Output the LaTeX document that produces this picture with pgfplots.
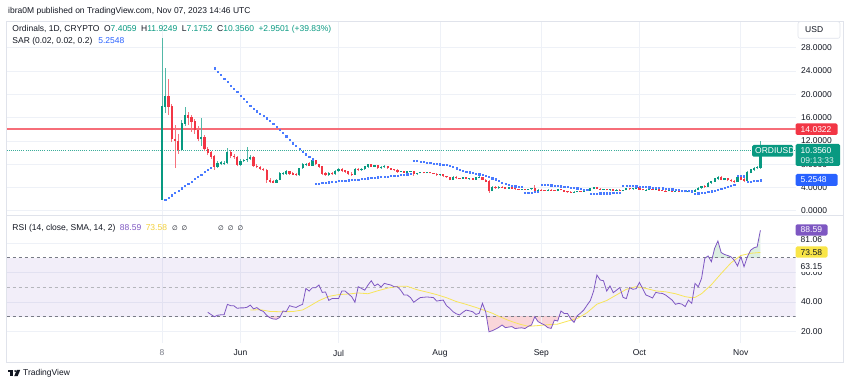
\documentclass[border=0pt]{standalone}
\usepackage{pgfplots}
\pgfplotsset{compat=1.18}
\usepackage{pgfplotstable}
\usepackage{fontspec}
\setmainfont{Liberation Sans}
\newfontfamily\symfont{DejaVu Sans}

\definecolor{tvgreen}{HTML}{089981}
\definecolor{tvred}{HTML}{F23645}
\definecolor{tvblue}{HTML}{2962FF}
\definecolor{sarblue}{HTML}{4A7BFF}
\definecolor{rsipurple}{HTML}{7E57C2}
\definecolor{smayellow}{HTML}{F7E55A}
\definecolor{labelyellow}{HTML}{F9E547}
\definecolor{legyellow}{HTML}{F2CF3A}
\definecolor{gridc}{HTML}{EEF1F7}
\definecolor{framec}{HTML}{E0E3EB}
\definecolor{txt}{HTML}{131722}
\definecolor{levelc}{HTML}{787B86}
\definecolor{obfill}{HTML}{DCEFE1}
\definecolor{osfill}{HTML}{FAD6DA}

\newcommand{\fs}{\fontsize{8.5bp}{10bp}\selectfont}

\pgfplotsset{
  tvbase/.style={
    scale only axis, anchor=south west,
    width=788.8bp,
    xmin=-47.49, xmax=193.73,
    axis line style={draw=none},
    major tick length=0pt,
    tick style={draw=none},
  },
}

% rising (green) daily candles: day, open, high, low, close
\pgfplotstableread{
d o h l c
0 1.96 29.7 1.85 17.9
1 17.9 24.5 16.8 19.6
6 10.5 15.6 10.2 15.0
7 15.0 17.9 14.6 16.4
12 12.3 16.0 11.2 12.6
17 7.6 8.6 7.3 8.1
18 8.0 8.5 7.8 8.3
19 8.0 8.5 7.9 8.2
20 8.2 10.8 8.0 10.1
24 7.9 8.8 7.7 8.5
25 8.5 8.9 8.3 8.7
26 8.7 11.0 8.4 8.9
27 8.9 9.6 8.7 9.2
35 4.85 5.5 4.8 5.3
36 5.3 6.6 5.2 6.4
37 6.3 6.6 6.1 6.45
38 6.4 7.0 6.2 6.8
42 6.1 7.4 6.0 7.3
43 7.3 8.2 7.2 8.0
44 7.85 8.2 7.6 8.05
46 7.8 8.8 7.7 8.6
51 6.1 6.7 6.0 6.5
53 6.3 7.0 6.2 6.8
54 6.8 7.3 6.6 7.1
59 6.15 7.4 6.1 7.2
61 7.0 7.3 6.9 7.15
62 7.15 7.7 7.0 7.6
63 7.6 8.1 7.4 7.95
65 7.6 7.9 7.5 7.75
67 7.3 7.6 7.2 7.5
68 7.5 7.8 7.3 7.65
73 6.7 6.9 6.6 6.8
75 6.6 6.8 6.5 6.7
76 6.7 6.9 6.6 6.8
78 6.3 6.5 6.2 6.45
79 6.45 6.6 6.4 6.55
81 6.45 6.7 6.4 6.6
85 6.1 6.3 6.0 6.2
89 5.35 5.9 5.3 5.75
92 5.5 5.8 5.45 5.7
94 5.45 5.6 5.35 5.55
96 5.4 5.8 5.35 5.7
97 5.7 5.9 5.6 5.8
101 3.35 4.2 3.3 4.0
103 3.9 4.2 3.8 4.1
106 3.85 4.1 3.8 4.0
110 3.6 3.8 3.55 3.7
112 3.6 3.8 3.55 3.75
113 3.75 3.9 3.6 3.85
115 3.45 3.7 3.4 3.6
118 3.4 3.7 3.35 3.6
121 3.4 3.7 3.35 3.65
126 3.1 3.35 3.0 3.25
127 3.25 3.4 3.15 3.35
129 3.28 3.55 3.25 3.5
131 3.42 3.9 3.4 3.8
132 3.8 4.1 3.7 4.0
135 3.6 3.8 3.5 3.75
137 3.55 3.7 3.45 3.65
139 3.45 3.65 3.4 3.6
141 3.4 3.6 3.35 3.55
142 3.55 3.9 3.5 3.85
144 3.7 3.85 3.6 3.8
145 3.8 4.05 3.7 3.95
148 3.55 3.7 3.45 3.6
149 3.6 3.75 3.55 3.7
151 3.6 3.7 3.5 3.65
155 3.35 3.5 3.3 3.45
157 3.3 3.45 3.25 3.4
159 3.25 3.35 3.15 3.32
161 3.2 3.36 3.15 3.32
163 3.25 3.65 3.2 3.6
164 3.6 4.0 3.5 3.9
165 3.9 4.3 3.8 4.2
167 4.05 4.9 4.0 4.8
168 4.8 5.1 4.6 5.0
169 5.0 5.7 4.9 5.5
170 5.5 6.0 5.3 5.8
172 5.35 5.6 5.2 5.5
176 4.95 5.9 4.9 5.8
179 5.2 6.8 5.1 6.6
180 6.6 7.2 6.4 7.05
181 7.05 7.5 6.9 7.35
182 7.3 7.7 7.1 7.45
183 7.4059 11.9249 7.1752 10.356
}\gcand

% falling (red) daily candles: day, open, high, low, close
\pgfplotstableread{
d o h l c
2 19.6 22.6 16.5 17.9
3 17.9 18.3 11.8 12.3
4 12.3 14.8 7.3 12.0
5 12.0 13.2 9.8 10.5
8 16.4 16.9 14.8 16.0
9 16.0 16.4 13.6 15.3
10 15.3 15.8 13.2 13.9
11 13.9 14.5 11.9 12.3
13 12.6 13.0 10.2 10.6
14 10.6 11.0 9.6 10.0
15 10.0 10.3 8.9 9.3
16 9.3 9.6 7.0 7.6
21 10.1 10.4 9.0 9.4
22 9.4 9.7 8.9 9.2
23 9.2 9.4 7.6 7.9
28 9.2 9.4 7.5 7.7
29 7.7 8.0 7.3 7.5
30 7.5 7.7 7.0 7.2
31 7.2 7.4 6.8 7.0
32 7.0 7.2 4.8 5.3
33 5.3 5.6 4.8 5.0
34 5.0 5.2 4.7 4.85
39 6.8 6.9 6.2 6.4
40 6.4 6.6 6.1 6.25
41 6.25 6.5 6.0 6.1
45 8.1 8.3 7.7 7.8
47 8.6 8.7 7.8 8.0
48 8.0 8.1 7.4 7.6
49 7.6 7.7 6.2 6.4
50 6.4 6.6 6.0 6.1
52 6.5 6.7 6.1 6.3
55 7.1 7.3 6.7 6.9
56 6.9 7.0 6.5 6.7
57 6.7 6.8 6.1 6.3
58 6.3 6.6 6.0 6.15
60 7.2 7.3 6.8 7.0
64 7.95 8.1 7.5 7.6
66 7.75 7.8 7.2 7.3
69 7.65 7.7 7.2 7.3
70 7.3 7.4 7.0 7.1
71 7.1 7.2 6.9 6.95
72 6.95 7.1 6.5 6.7
74 6.8 6.9 6.5 6.6
77 6.8 6.9 6.0 6.3
80 6.55 6.6 6.4 6.45
82 6.6 6.65 6.4 6.45
83 6.45 6.55 6.3 6.35
84 6.35 6.5 6.0 6.1
86 6.2 6.3 5.8 5.95
87 5.95 6.0 5.6 5.75
88 5.75 5.8 5.2 5.35
90 5.75 5.9 5.5 5.6
91 5.6 5.7 5.4 5.5
93 5.7 5.75 5.4 5.45
95 5.55 5.6 5.3 5.4
98 5.8 5.85 5.2 5.3
99 5.3 5.4 4.9 5.0
100 5.0 5.25 3.05 3.35
102 4.0 4.2 3.8 3.9
104 4.1 4.2 3.9 4.0
105 4.0 4.1 3.75 3.85
107 4.0 4.05 3.7 3.8
108 3.8 3.9 3.6 3.7
109 3.7 3.8 3.55 3.6
111 3.7 3.75 3.5 3.6
114 3.85 4.4 3.3 3.45
116 3.6 3.65 3.4 3.5
117 3.5 3.6 3.35 3.4
119 3.6 3.65 3.45 3.5
120 3.5 3.6 3.35 3.4
122 3.65 3.7 3.5 3.55
123 3.55 3.6 3.2 3.3
124 3.3 3.45 3.1 3.2
125 3.2 3.3 3.0 3.1
128 3.35 3.45 3.2 3.28
130 3.5 3.6 3.35 3.42
133 4.0 4.05 3.7 3.75
134 3.75 3.85 3.55 3.6
136 3.75 3.8 3.5 3.55
138 3.65 3.7 3.4 3.45
140 3.6 3.65 3.35 3.4
143 3.85 3.9 3.6 3.7
146 3.95 4.0 3.6 3.65
147 3.65 3.75 3.5 3.55
150 3.7 3.75 3.55 3.6
152 3.65 3.7 3.45 3.5
153 3.5 3.6 3.4 3.42
154 3.42 3.55 3.3 3.35
156 3.45 3.5 3.25 3.3
158 3.4 3.45 3.2 3.25
160 3.32 3.35 3.15 3.2
162 3.32 3.34 3.2 3.25
166 4.2 4.35 3.95 4.05
171 5.8 5.9 5.2 5.35
173 5.5 5.6 5.1 5.25
174 5.25 5.4 5.0 5.1
175 5.1 5.25 4.8 4.95
177 5.8 5.85 5.2 5.35
178 5.35 5.8 5.0 5.2
}\rcand

\pgfplotstableread{
d s
1 1.85
2 2.25
3 2.65
4 3.05
5 3.45
6 3.85
7 4.25
8 4.65
9 5.05
10 5.45
11 5.85
12 6.25
13 6.65
14 7.05
15 7.45
16 24.5
17 23.9
18 23.3
19 22.7
20 22.1
21 21.5
22 20.9
23 20.4
24 19.8
25 19.2
26 18.7
27 18.1
28 17.5
29 17.1
30 16.7
31 16.3
32 15.9
33 15.4
34 14.9
35 14.4
36 13.9
37 13.4
38 12.8
39 12.2
40 11.6
41 11.1
42 10.7
43 10.2
44 9.7
45 9.3
46 8.85
47 4.60
48 4.68
49 4.75
50 4.82
51 4.89
52 4.96
53 5.03
54 5.10
55 5.14
56 5.19
57 5.24
58 5.29
59 5.34
60 5.39
61 5.44
62 5.50
63 5.57
64 5.63
65 5.70
66 5.75
67 5.80
68 5.85
69 5.90
70 5.95
71 6.00
72 6.05
73 6.12
74 6.20
75 6.28
76 6.38
77 8.60
78 8.53
79 8.46
80 8.39
81 8.31
82 8.23
83 8.14
84 8.07
85 8.00
86 7.92
87 7.84
88 7.68
89 7.50
90 7.30
91 7.10
92 6.92
93 6.75
94 6.62
95 6.50
96 6.39
97 6.28
98 6.16
99 6.02
100 5.85
101 5.60
102 5.40
103 5.15
104 4.85
105 4.60
106 4.40
107 4.28
108 4.20
109 4.14
110 4.08
111 3.10
112 3.13
113 3.16
114 3.20
115 3.24
116 4.50
117 4.46
118 4.42
119 4.37
120 4.32
121 4.27
122 4.21
123 4.15
124 4.08
125 4.01
126 3.93
127 3.85
128 3.76
129 3.67
130 3.57
131 2.95
132 2.97
133 2.98
134 2.99
135 3.00
136 3.01
137 3.02
138 3.04
139 3.06
140 3.08
141 4.35
142 4.32
143 4.29
144 4.26
145 4.22
146 4.18
147 4.14
148 4.10
149 4.05
150 4.00
151 3.95
152 3.90
153 3.85
154 3.80
155 3.74
156 3.68
157 3.62
158 3.56
159 3.50
160 3.44
161 3.39
162 3.36
163 2.95
164 3.00
165 3.07
166 3.15
167 3.25
168 3.36
169 3.48
170 3.60
171 3.75
172 3.90
173 4.07
174 4.25
175 4.45
176 5.98
177 5.96
178 5.93
179 4.95
180 5.02
181 5.09
182 5.17
183 5.2548
}\sartab

\pgfplotstableread{
d r
14 33.0
15 31.5
16 30.0
17 31.0
18 31.3
19 31.4
20 38.4
21 37.5
22 37.4
23 35.7
24 36.0
25 36.0
26 36.4
27 37.9
28 35.3
29 36.2
30 34.5
31 33.6
32 31.0
33 29.3
34 28.5
35 28.3
36 29.5
37 33.9
38 33.5
39 37.5
40 36.8
41 36.3
42 37.5
43 38.4
44 49.2
45 47.4
46 49.7
47 49.7
48 51.5
49 46.5
50 46.8
51 41.1
52 42.3
53 42.3
54 42.3
55 47.4
56 47.4
57 45.5
58 43.6
59 39.8
60 50.3
61 49.2
62 48.0
63 51.5
64 54.4
65 50.9
66 52.2
67 50.1
68 52.6
69 52.0
70 51.5
71 50.3
72 50.3
73 48.0
74 44.7
75 44.7
76 43.0
77 39.8
78 41.5
79 43.0
80 43.2
81 43.4
82 43.2
83 43.0
84 40.6
85 41.0
86 41.3
87 37.5
88 35.7
89 33.4
90 32.0
91 31.2
92 33.0
93 34.5
94 34.0
95 33.4
96 31.6
97 32.3
98 39.1
99 33.2
100 19.8
101 20.5
102 21.6
103 22.8
104 24.4
105 22.6
106 23.0
107 23.3
108 22.0
109 22.3
110 22.5
111 22.0
112 23.5
113 24.4
114 30.0
115 26.7
116 25.5
117 24.4
118 22.6
119 22.1
120 27.7
121 27.1
122 33.9
123 32.2
124 32.2
125 28.5
126 26.2
127 30.7
128 32.5
129 34.6
130 37.9
131 41.0
132 47.4
133 58.3
134 54.9
135 54.4
136 47.4
137 50.9
138 46.3
139 48.0
140 49.8
141 43.1
142 42.3
143 49.8
144 48.6
145 49.0
146 53.3
147 49.0
148 44.7
149 43.8
150 42.7
151 46.5
152 46.0
153 45.8
154 44.7
155 43.0
156 41.3
157 38.4
158 39.1
159 38.5
160 36.9
161 41.3
162 39.1
163 52.6
164 50.3
165 56.0
166 69.6
167 71.2
168 67.3
169 76.4
170 81.3
171 73.5
172 72.2
173 71.5
174 70.6
175 68.3
176 64.4
177 70.6
178 63.9
179 70.6
180 75.1
181 76.7
182 77.4
183 88.59
}\rsitab

% RSI stretch above the 70 level, closed down to 0 (clipped at 70)
\pgfplotstableread{
d r
165 56.0
166 69.6
167 71.2
168 67.3
169 76.4
170 81.3
171 73.5
172 72.2
173 71.5
174 70.6
175 68.3
176 64.4
177 70.6
178 63.9
179 70.6
180 75.1
181 76.7
182 77.4
183 88.59
183 0
165 0
}\obpoly

% RSI stretches below the 30 level, closed up to 100 (clipped at 30)
\pgfplotstableread{
d r
32 31.0
33 29.3
34 28.5
35 28.3
36 29.5
37 33.9
37 100
32 100
}\osA
\pgfplotstableread{
d r
99 33.2
100 19.8
101 20.5
102 21.6
103 22.8
104 24.4
105 22.6
106 23.0
107 23.3
108 22.0
109 22.3
110 22.5
111 22.0
112 23.5
113 24.4
114 30.0
115 26.7
116 25.5
117 24.4
118 22.6
119 22.1
120 27.7
121 27.1
122 33.9
123 32.2
124 32.2
125 28.5
126 26.2
127 30.7
128 32.5
128 100
99 100
}\osB

\pgfplotstableread{
d m
27 34.5
30 34.8
33 33.6
36 33.4
40 33.5
43 34.6
45 37.0
48 40.9
51 43.8
54 45.0
57 45.4
60 46.1
63 45.6
66 47.6
69 49.4
72 50.6
75 50.6
78 48.3
81 46.7
84 45.0
87 42.9
90 40.3
93 38.4
96 36.3
99 34.0
101 32.4
103 30.3
106 27.5
109 25.2
112 23.5
115 24.0
118 24.6
121 25.0
124 27.0
127 28.8
130 32.8
133 38.5
136 41.0
139 44.8
142 48.6
145 50.4
148 49.2
151 47.5
154 46.9
157 45.6
160 43.6
162 42.9
163 43.1
165 45.6
168 51.7
171 59.3
174 66.5
177 71.5
180 73.0
183 73.58
}\smatab

\begin{document}
\begin{tikzpicture}
\path[use as bounding box] (0,0) rectangle (850bp,386bp);

% ---------- price pane ----------
\begin{axis}[tvbase, at={(6.7bp,171bp)}, height=194bp,
  ymin=-0.739, ymax=32.595,
  xtick={0,24,54,85,116,146,177}, xticklabels={,,,,,,},
  ytick={0,4,8,12,16,20,24,28},
  yticklabels={0.0000,4.0000,8.0000,12.0000,16.0000,20.0000,24.0000,28.0000},
  ytick pos=right, yticklabel pos=right,
  yticklabel style={font=\fs, text=txt, anchor=west, xshift=2bp},
  xmajorgrids, ymajorgrids, major grid style={draw=gridc, line width=0.7bp},
]
\addplot[tvred!72, line width=1.6bp] coordinates {(-47.49,14.0322) (193.73,14.0322)};
\addplot[tvgreen!80, line width=0.6bp, dash pattern=on 0.8bp off 1.3bp] coordinates {(-47.49,10.356) (193.73,10.356)};
\addplot[only marks, mark=square*, mark size=0.6bp, color=sarblue] table[x=d,y=s]{\sartab};
% wicks
\addplot[tvgreen!70, line width=0.7bp, quiver={u=0, v=\thisrow{h}-\thisrow{l}}]
  table[x=d, y=l]{\gcand};
\addplot[tvred!70, line width=0.7bp, quiver={u=0, v=\thisrow{h}-\thisrow{l}}]
  table[x=d, y=l]{\rcand};
% bodies
\addplot[tvgreen, line width=2.2bp, quiver={u=0, v=\thisrow{c}-\thisrow{o}+0.08}]
  table[x=d, y expr=\thisrow{o}-0.04]{\gcand};
\addplot[tvred, line width=2.2bp, quiver={u=0, v=\thisrow{o}-\thisrow{c}+0.08}]
  table[x=d, y expr=\thisrow{c}-0.04]{\rcand};
\end{axis}

% ---------- RSI overbought fill ----------
\begin{axis}[tvbase, at={(6.7bp,128.28bp)}, height=42.72bp, ymin=70, ymax=98.95,
  xtick=\empty, ytick=\empty]
\addplot[fill=obfill, draw=none] table[x=d,y=r]{\obpoly};
\end{axis}
% ---------- RSI oversold fill ----------
\begin{axis}[tvbase, at={(6.7bp,43bp)}, height=26.26bp, ymin=12.2, ymax=30,
  xtick=\empty, ytick=\empty]
\addplot[fill=osfill, draw=none] table[x=d,y=r]{\osA};
\addplot[fill=osfill, draw=none] table[x=d,y=r]{\osB};
\end{axis}

% ---------- RSI pane ----------
\begin{axis}[tvbase, at={(6.7bp,43bp)}, height=128bp,
  ymin=12.2, ymax=98.95,
  xtick={0,24,54,85,116,146,177},
  xticklabels={\textcolor{levelc}{8},Jun,Jul,Aug,Sep,Oct,Nov},
  xtick pos=bottom, xticklabel style={font=\fs, text=txt, yshift=-3.5bp},
  ytick={20,40,60,80}, yticklabels={20.00,40.00,60.00,{}},
  ytick pos=right, yticklabel pos=right,
  yticklabel style={font=\fs, text=txt, anchor=west, xshift=2bp},
  xmajorgrids, ymajorgrids, major grid style={draw=gridc, line width=0.7bp},
]
\addplot[draw=none, fill=rsipurple, fill opacity=0.1] coordinates {(-47.49,30) (193.73,30) (193.73,70) (-47.49,70)};
\addplot[levelc, line width=0.6bp, dash pattern=on 3.5bp off 2.5bp] coordinates {(-47.49,70) (193.73,70)};
\addplot[levelc!55, line width=0.6bp, dash pattern=on 3.5bp off 2.5bp] coordinates {(-47.49,50) (193.73,50)};
\addplot[levelc, line width=0.6bp, dash pattern=on 3.5bp off 2.5bp] coordinates {(-47.49,30) (193.73,30)};
\addplot[smayellow, line width=0.8bp] table[x=d,y=m]{\smatab};
\addplot[rsipurple, line width=0.8bp] table[x=d,y=r]{\rsitab};
\end{axis}

% ---------- frame ----------
\draw[framec, line width=0.8bp] (6.7bp,24bp) rectangle (843bp,365bp);
\draw[framec, line width=0.8bp] (6.7bp,171bp) -- (843bp,171bp);

% ---------- labels on the price scale ----------
\draw[framec, fill=white, rounded corners=2bp, line width=0.6bp] (798bp,347.7bp) rectangle (840bp,364.3bp);
\node[anchor=west, inner sep=0, font=\fs, text=txt] at (805bp,356bp) {USD};

\fill[tvred, rounded corners=1.5bp] (795.5bp,251bp) rectangle (837.5bp,262.7bp);
\node[anchor=west, inner sep=0, font=\fs, text=white] at (800.5bp,256.9bp) {14.0322};

\fill[tvgreen, rounded corners=1.5bp] (795.5bp,220bp) rectangle (840bp,242bp);
\node[anchor=west, inner sep=0, font=\fs, text=white] at (800.5bp,235.7bp) {10.3560};
\node[anchor=west, inner sep=0, font=\fs, text=white!85!tvgreen] at (800.5bp,225.5bp) {09:13:33};

\fill[tvblue, rounded corners=1.5bp] (795.5bp,200bp) rectangle (837.5bp,212bp);
\node[anchor=west, inner sep=0, font=\fs, text=white] at (800.5bp,206bp) {5.2548};

\fill[tvgreen, rounded corners=1.5bp] (752bp,229.3bp) rectangle (793bp,241bp);
\node[anchor=west, inner sep=0, font=\fs, text=white] at (755bp,235.2bp) {ORDIUSD};

% RSI scale labels
\fill[rsipurple, rounded corners=1.5bp] (795.5bp,150.3bp) rectangle (827.5bp,161.7bp);
\node[anchor=west, inner sep=0, font=\fs, text=white] at (800.5bp,156bp) {88.59};
\node[anchor=west, inner sep=0, font=\fs, text=txt] at (800.5bp,146.8bp) {81.06};
\fill[labelyellow, rounded corners=1.5bp] (795.5bp,128.3bp) rectangle (827.5bp,139.5bp);
\node[anchor=west, inner sep=0, font=\fs, text=txt] at (800.5bp,133.9bp) {73.58};
\fill[white] (797bp,113.5bp) rectangle (830bp,124bp);
\node[anchor=west, inner sep=0, font=\fs, text=txt] at (800.5bp,119bp) {63.15};

% ---------- legends ----------
\node[anchor=west, inner sep=0, font=\fs, text=txt] at (8bp,375bp)
  {ibra0M published on TradingView.com, Nov 07, 2023 14:46 UTC};
\node[anchor=west, inner sep=0, font=\fs, text=txt] at (12.3bp,357bp)
  {Ordinals, 1D, CRYPTO\hspace{4.5bp}O\textcolor{tvgreen}{7.4059}\hspace{4.5bp}H\textcolor{tvgreen}{11.9249}\hspace{4.5bp}L\textcolor{tvgreen}{7.1752}\hspace{4.5bp}C\textcolor{tvgreen}{10.3560}\hspace{4.5bp}\textcolor{tvgreen}{+2.9501 (+39.83\%)}};
\node[anchor=west, inner sep=0, font=\fs, text=txt] at (12.3bp,345bp)
  {SAR (0.02, 0.02, 0.2)\hspace{6bp}\textcolor{tvblue}{5.2548}};
\node[anchor=west, inner sep=0, font=\fs, text=txt] at (12.3bp,158bp)
  {RSI (14, close, SMA, 14, 2)\hspace{4.5bp}\textcolor{rsipurple}{88.59}\hspace{4.5bp}\textcolor{legyellow}{73.58}\hspace{5bp}{\symfont\fontsize{6.5bp}{7bp}\selectfont ∅\hspace{4bp}∅}};
\node[anchor=west, inner sep=0, text=txt] at (218bp,158bp)
  {\symfont\fontsize{6.5bp}{7bp}\selectfont ∅\hspace{4bp}∅\hspace{4bp}∅};

% ---------- footer ----------
\fill[txt] (7.5bp,14.2bp) rectangle (13.2bp,16bp);
\fill[txt] (10.4bp,9.8bp) rectangle (13.2bp,16bp);
\fill[txt] (15.2bp,14.9bp) circle (1.1bp);
\fill[txt] (16.8bp,16bp) -- (20.2bp,16bp) -- (17.6bp,9.8bp) -- (14.2bp,9.8bp) -- cycle;
\node[anchor=west, inner sep=0, font=\fs, text=txt] at (23bp,12.7bp) {TradingView};
\end{tikzpicture}
\end{document}
